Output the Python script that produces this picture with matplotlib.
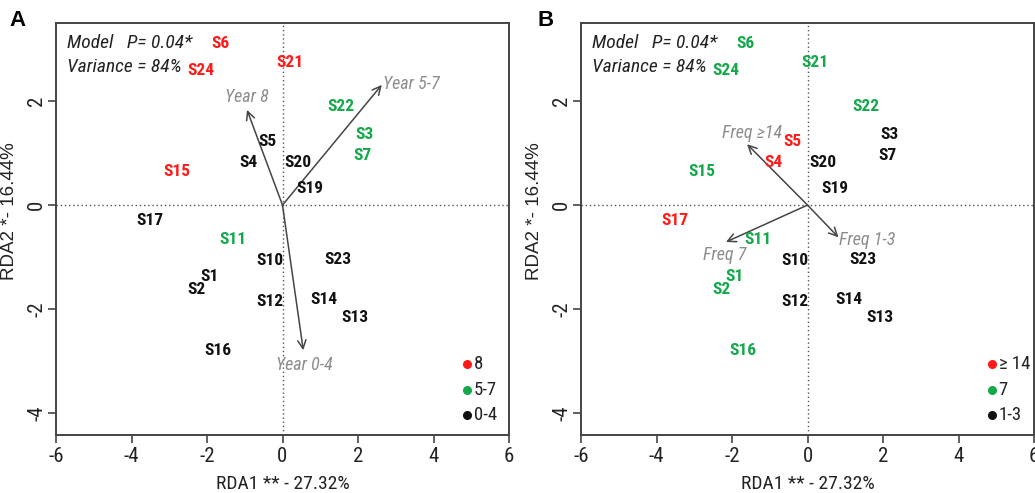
import matplotlib
matplotlib.use("Agg")
import matplotlib.pyplot as plt
from matplotlib import font_manager
from matplotlib.font_manager import FontProperties

# ---------------- data ----------------
sites = ["S1", "S2", "S3", "S4", "S5", "S6", "S7", "S10", "S11", "S12", "S13",
         "S14", "S15", "S16", "S17", "S19", "S20", "S21", "S22", "S23", "S24"]
rda1 = [-1.94, -2.29, 2.16, -0.89, -0.41, -1.64, 2.11, -0.34, -1.31, -0.34, 1.91,
        1.11, -2.79, -1.72, -3.50, 0.72, 0.42, 0.21, 1.56, 1.48, -2.16]
rda2 = [-1.38, -1.62, 1.35, 0.82, 1.22, 3.11, 0.96, -1.06, -0.67, -1.85, -2.17,
        -1.81, 0.64, -2.79, -0.29, 0.32, 0.82, 2.74, 1.89, -1.04, 2.58]

# group membership per site (A: years, B: frequency)
group_a = ["0-4", "0-4", "5-7", "0-4", "0-4", "8", "5-7", "0-4", "5-7", "0-4", "0-4",
           "0-4", "8", "0-4", "0-4", "0-4", "0-4", "8", "5-7", "0-4", "8"]
group_b = ["7", "7", "1-3", "≥ 14", "≥ 14", "7", "1-3", "1-3", "7", "1-3", "1-3",
           "1-3", "7", "7", "≥ 14", "1-3", "1-3", "7", "7", "1-3", "7"]

levels_a = ["8", "5-7", "0-4"]
levels_b = ["≥ 14", "7", "1-3"]

# environmental vectors
vec_a_names = ["Year 8", "Year 5-7", "Year 0-4"]
vec_a_x = [-0.94, 2.63, 0.55]
vec_a_y = [1.83, 2.31, -2.79]
vec_b_names = ["Freq ≥14", "Freq 1-3", "Freq 7"]
vec_b_x = [-1.60, 0.82, -2.16]
vec_b_y = [1.17, -0.62, -0.71]

xlabel = "RDA1 ** - 27.32%"
ylabel = "RDA2 *- 16.44%"
xticks = [-6, -4, -2, 0, 2, 4, 6]
yticks = [-4, -2, 0, 2]

# ---------------- fonts ----------------
ttf = font_manager.fontManager.ttflist
names = {f.name for f in ttf}
NARROW = None
STRETCH = "normal"
for cand in ["Liberation Sans Narrow", "Arial Narrow", "Roboto Condensed",
             "Open Sans Condensed", "Noto Sans Condensed"]:
    if cand in names:
        NARROW = cand
        break
if NARROW is None:
    for f in ttf:
        if str(f.stretch) in ("condensed", "semi-condensed") and f.name in (
                "DejaVu Sans", "Noto Sans", "Open Sans", "Roboto", "Liberation Sans"):
            NARROW = f.name
            STRETCH = str(f.stretch)
            break
if NARROW is None:
    NARROW = "Liberation Sans"
    K = 0.84
else:
    K = 1.0


def fp(size, weight="normal", style="normal", narrow=True):
    if narrow:
        return FontProperties(family=[NARROW, "DejaVu Sans"], stretch=STRETCH,
                              size=size * K, weight=weight, style=style)
    return FontProperties(family=["Liberation Sans", "DejaVu Sans"], size=size,
                          weight=weight, style=style)


RED = "#ff1a1a"
GREEN = "#13a84a"
BLACK = "#111111"
level_colors = [RED, GREEN, BLACK]
VEC_TXT = "#8c8c8c"
ARROW = "#454545"
SPINE = "#444444"
TXT = "#222222"

fig = plt.figure(figsize=(10.35, 4.93), dpi=100)
W, H = 1035.0, 493.0
rect_w_px = 453.0


def panel(rect, groups, levels, vnames, vx, vy, vlabel_pos, letter, letter_x):
    ax = fig.add_axes(rect)
    ax.set_xlim(-6, 6)
    ax.set_ylim(-4.42, 3.5)
    ax.axhline(0, color="#555555", lw=1.0, ls=(0, (1, 2)), zorder=1)
    ax.axvline(0, color="#555555", lw=1.0, ls=(0, (1, 2)), zorder=1)
    cmap = dict(zip(levels, level_colors))
    for s, x, y, g in zip(sites, rda1, rda2, groups):
        ax.text(x, y, s, color=cmap[g], fontproperties=fp(12.5, weight="bold"),
                ha="center", va="center", zorder=3)
    for name, x, y, (lx, ly, ha) in zip(vnames, vx, vy, vlabel_pos):
        ax.annotate("", xy=(x, y), xytext=(0, 0),
                    arrowprops=dict(arrowstyle="->,head_length=0.6,head_width=0.3",
                                    color=ARROW, lw=1.1, shrinkA=0, shrinkB=0),
                    zorder=2)
        ax.text(lx, ly, name, color=VEC_TXT, fontproperties=fp(13, style="italic"),
                ha=ha, va="center", zorder=3)
    # annotation text
    ax.text(0.024, 0.952, "Model   P= 0.04*", transform=ax.transAxes,
            fontproperties=fp(14, style="italic"), ha="left", va="center", color=TXT)
    ax.text(0.024, 0.893, "Variance = 84%", transform=ax.transAxes,
            fontproperties=fp(14, style="italic"), ha="left", va="center", color=TXT)
    # legend
    ly0 = [-3.06, -3.56, -4.04]
    for lev, col, yy in zip(levels, level_colors, ly0):
        ax.plot([4.9], [yy], "o", color=col, ms=5.5, zorder=3)
        ax.text(5.06, yy, lev, fontproperties=fp(13.5), ha="left", va="center", color=TXT)
    ax.set_xticks(xticks)
    ax.set_yticks(yticks)
    ax.set_xticklabels([str(t) for t in xticks], fontproperties=fp(15), color=TXT)
    ax.set_yticklabels([str(t) for t in yticks], fontproperties=fp(15), color=TXT,
                       rotation=90, va="center")
    ax.tick_params(direction="out", length=6, width=1.2, color=SPINE)
    ax.tick_params(axis="x", pad=3)
    ax.tick_params(axis="y", pad=1)
    for sp in ax.spines.values():
        sp.set_color(SPINE)
        sp.set_linewidth(1.4)
    ax.set_xlabel(xlabel, fontproperties=fp(14), color=TXT, labelpad=6)
    ax.set_ylabel(ylabel, fontproperties=fp(13.5, narrow=False), color=TXT)
    ax.yaxis.set_label_coords(-38 / rect_w_px, 0.544)
    fig.text(letter_x / W, 1 - 20 / H, letter, fontproperties=fp(16, weight="bold", narrow=False),
             ha="center", va="center")
    return ax


vpos_a = [(-0.95, 2.08, "center"), (2.65, 2.32, "left"), (0.58, -3.08, "center")]
vpos_b = [(-1.47, 1.39, "center"), (1.57, -0.67, "center"), (-2.20, -0.96, "center")]

panel([56 / W, 1 - 435 / H, 453 / W, 412 / H], group_a, levels_a,
      vec_a_names, vec_a_x, vec_a_y, vpos_a, "A", 18)
panel([581 / W, 1 - 435 / H, 453 / W, 412 / H], group_b, levels_b,
      vec_b_names, vec_b_x, vec_b_y, vpos_b, "B", 546)

fig.savefig("out.png", dpi=100)
